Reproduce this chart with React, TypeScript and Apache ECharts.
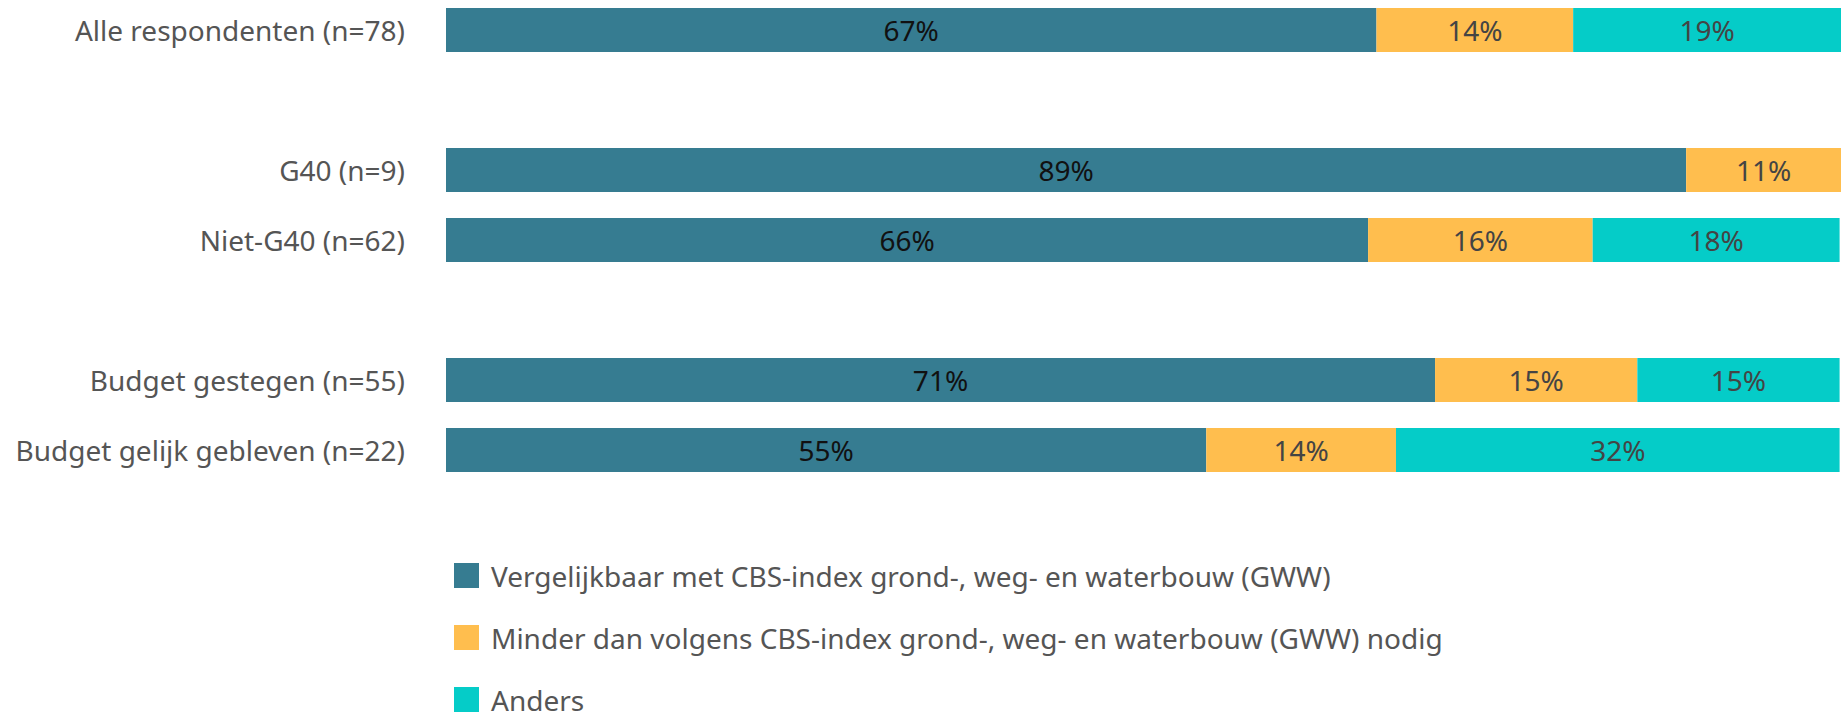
import React, { useEffect, useRef } from "react";
import * as echarts from "echarts";

const categories = [
  "Alle respondenten (n=78)",
  "",
  "G40 (n=9)",
  "Niet-G40 (n=62)",
  " ",
  "Budget gestegen (n=55)",
  "Budget gelijk gebleven (n=22)",
];

const seriesNames = [
  "Vergelijkbaar met CBS-index grond-, weg- en waterbouw (GWW)",
  "Minder dan volgens CBS-index grond-, weg- en waterbouw (GWW) nodig",
  "Anders",
];

const vergelijkbaar = [66.7, null, 88.9, 66.1, null, 70.9, 54.5];
const minder = [14.1, null, 11.1, 16.1, null, 14.5, 13.6];
const anders = [19.2, null, 0, 17.7, null, 14.5, 31.8];

const colors = ["#367C91", "#FFBE4E", "#05CCC8"];
const labelColors = ["#111111", "#444444", "#444444"];

export default function App() {
  const ref = useRef<HTMLDivElement>(null);
  useEffect(() => {
    document.body.style.margin = "0";
    document.body.style.overflow = "hidden";
    if (!ref.current) return;
    const chart = echarts.init(ref.current, null, { renderer: "svg" });
    const font = "Noto Sans";
    const datasets = [vergelijkbaar, minder, anders];
    chart.setOption({
      animation: false,
      textStyle: { fontFamily: font },
      grid: {
        left: 446,
        right: 0,
        top: -5,
        height: 490,
        containLabel: false,
        outerBoundsMode: "none",
      },
      xAxis: { type: "value", min: 0, max: 100, show: false },
      yAxis: {
        type: "category",
        data: categories,
        inverse: true,
        axisLine: { show: false },
        axisTick: { show: false },
        splitLine: { show: false },
        axisLabel: { margin: 41, fontSize: 28, color: "#555555", fontFamily: font },
      },
      legend: {
        orient: "vertical",
        left: 454,
        top: 561.5,
        padding: 0,
        itemWidth: 25,
        itemHeight: 25,
        itemGap: 34,
        icon: "rect",
        textStyle: {
          fontSize: 28,
          color: "#555555",
          fontFamily: font,
          padding: [0, 0, 12, 7],
        },
        data: seriesNames,
      },
      series: seriesNames.map((name, i) => ({
        name,
        type: "bar",
        stack: "total",
        barWidth: 44,
        itemStyle: { color: colors[i] },
        label: {
          show: true,
          position: "inside",
          fontSize: 28,
          fontFamily: font,
          color: labelColors[i],
          formatter: (p: any) => (p.value ? Math.round(p.value) + "%" : ""),
        },
        data: datasets[i],
      })),
    });
    return () => chart.dispose();
  }, []);
  return <div ref={ref} style={{ width: 1841, height: 760 }} />;
}
